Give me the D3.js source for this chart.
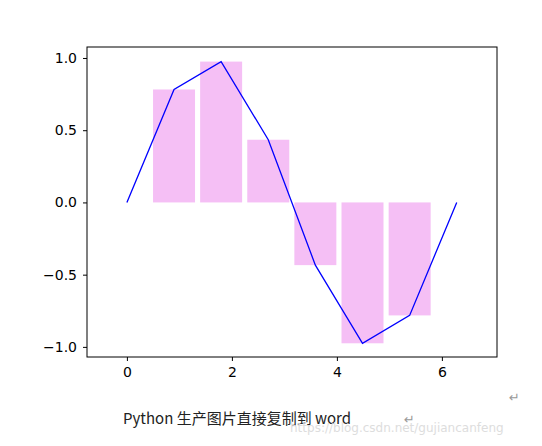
<!DOCTYPE html>
<html><head><meta charset="utf-8">
<script src="https://cdn.jsdelivr.net/npm/d3@7"></script>
<style>body{margin:0;background:#fff}</style>
</head><body>
<svg id="root" width="542" height="446"></svg>
<script>
// data
const lineX = [0, 0.898, 1.795, 2.693, 3.590, 4.488, 5.386, 6.283];
const lineY = [0, 0.782, 0.975, 0.434, -0.434, -0.975, -0.782, 0];
const barX = [0.898, 1.795, 2.693, 3.590, 4.488, 5.386];
const barY = [0.782, 0.975, 0.434, -0.434, -0.975, -0.782];
const xTicks = [0, 2, 4, 6];
const yTicks = [-1.0, -0.5, 0.0, 0.5, 1.0];

const svg = d3.select('#root');
const mLeft = 87, mRight = 497, mTop = 47, mBottom = 357;

const x = d3.scaleLinear().domain([-0.76, 7.05]).range([mLeft, mRight]);
const y = d3.scaleLinear().domain([-1.07, 1.076]).range([mBottom, mTop]);

// bars
svg.selectAll('rect.bar').data(barX).enter().append('rect')
  .attr('x', d => x(d - 0.4))
  .attr('width', x(0.8) - x(0))
  .attr('y', (d, i) => y(Math.max(0, barY[i])))
  .attr('height', (d, i) => Math.abs(y(barY[i]) - y(0)))
  .attr('fill', '#f5bff5');

// line
svg.append('path')
  .datum(lineX.map((d, i) => [d, lineY[i]]))
  .attr('d', d3.line().x(d => x(d[0])).y(d => y(d[1])))
  .attr('fill', 'none').attr('stroke', 'blue').attr('stroke-width', 1.3);

// axes
const font = 'DejaVu Sans';
svg.append('g').attr('transform', `translate(0,${mBottom})`)
  .call(d3.axisBottom(x).tickValues(xTicks).tickSize(4).tickPadding(6).tickFormat(d3.format('d')))
  .call(g => g.select('.domain').remove());
svg.append('g').attr('transform', `translate(${mLeft},0)`)
  .call(d3.axisLeft(y).tickValues(yTicks).tickSize(4).tickPadding(6)
    .tickFormat(d => d3.format('.1f')(d).replace('-', '\u2212')))
  .call(g => g.select('.domain').remove());
svg.selectAll('.tick text').attr('font-family', font).attr('font-size', 14).attr('fill', '#000');
svg.selectAll('.tick line').attr('stroke', '#000');

svg.append('rect').attr('x', mLeft).attr('y', mTop)
  .attr('width', mRight - mLeft).attr('height', mBottom - mTop)
  .attr('fill', 'none').attr('stroke', '#000').attr('stroke-width', 1);

// caption
svg.append('text').attr('x', 123).attr('y', 424)
  .attr('font-family', 'Noto Sans CJK SC').attr('font-size', 15).attr('fill', '#222')
  .text('Python 生产图片直接复制到 word');
svg.append('text').attr('x', 404).attr('y', 424)
  .attr('font-family', font).attr('font-size', 13).attr('fill', '#999').text('↵');
svg.append('text').attr('x', 509).attr('y', 402)
  .attr('font-family', font).attr('font-size', 13).attr('fill', '#999').text('↵');
svg.append('text').attr('x', 290).attr('y', 432)
  .attr('font-family', font).attr('font-size', 12).attr('fill', '#ddd')
  .text('https://blog.csdn.net/gujiancanfeng');
</script>
</body></html>
